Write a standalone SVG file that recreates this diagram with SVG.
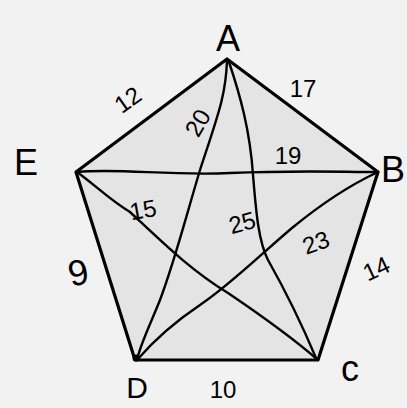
<svg xmlns="http://www.w3.org/2000/svg" width="407" height="408" viewBox="0 0 407 408">
<style>
.bg{fill:#f2f2f2}
.poly{fill:#e4e4e4;stroke:#000;stroke-width:3.2;stroke-linejoin:round}
.diag{fill:none;stroke:#000;stroke-width:2.4;stroke-linecap:round}
.lbl{font-family:"Liberation Sans",Arial,sans-serif;fill:#000;font-size:36px}
.num{font-family:"Liberation Sans",Arial,sans-serif;fill:#000;font-size:24px}
.big{font-size:36px}
</style>
<rect class="bg" x="0" y="0" width="407" height="408"/>
<g id="pentagon">
<polygon class="poly" points="227,59 378,172 318,360 135,360 76,172"/>
</g>
<g id="connectors">
<path class="diag" d="M227,60 C226,95 218,115 200,170 C185,220 175,260 160,300 C150,325 140,345 137,360"/>
<path class="diag" d="M229,62 C240,95 250,130 253,175 C256,210 258,240 268,260 C285,290 300,320 316,358"/>
<path class="diag" d="M77,172 C120,168 170,176 230,173 C300,170 340,172 378,172"/>
<path class="diag" d="M77,172 C95,185 110,200 130,212 C160,240 190,270 228,293 C265,318 295,340 318,360"/>
<path class="diag" d="M378,172 C350,185 320,205 292,228 C260,255 230,285 200,305 C170,325 150,345 137,360"/>
<circle cx="136" cy="358" r="3.5"/>
</g>
<g id="node-A"><text class="lbl" x="228" y="51" text-anchor="middle">A</text></g>
<g id="node-B"><text class="lbl" x="393" y="182" text-anchor="middle">B</text></g>
<g id="node-C"><text class="lbl" x="350" y="381" text-anchor="middle">c</text></g>
<g id="node-D"><text class="lbl" x="137" y="398" text-anchor="middle" style="font-size:30px">D</text></g>
<g id="node-E"><text class="lbl" x="26" y="175" text-anchor="middle">E</text></g>
<g id="labels">
<text class="num" x="128" y="108" text-anchor="middle" transform="rotate(-35 128 100)">12</text>
<text class="num" x="303" y="97" text-anchor="middle">17</text>
<text class="num" x="198" y="131" text-anchor="middle" transform="rotate(-60 198 123)">20</text>
<text class="num" x="288" y="164" text-anchor="middle">19</text>
<text class="num" x="143" y="218" text-anchor="middle" transform="rotate(-10 143 210)">15</text>
<text class="num" x="242" y="231" text-anchor="middle" transform="rotate(-15 242 222)">25</text>
<text class="num" x="316" y="251" text-anchor="middle" transform="rotate(-20 316 243)">23</text>
<text class="num big" x="78" y="285" text-anchor="middle" transform="rotate(-12 78 272)">9</text>
<text class="num" x="376" y="277" text-anchor="middle" transform="rotate(-25 376 268)">14</text>
<text class="num" x="223" y="398" text-anchor="middle">10</text>
</g>
</svg>
